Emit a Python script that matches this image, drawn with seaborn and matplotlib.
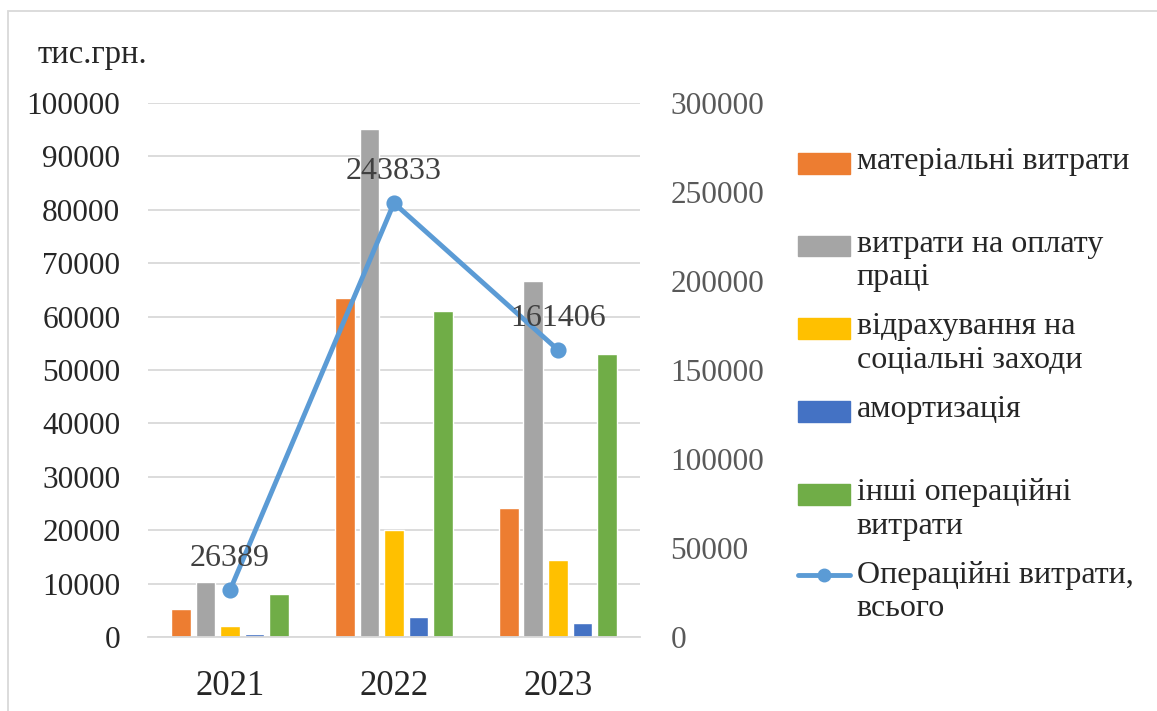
import matplotlib.pyplot as plt
import matplotlib.patches as mpatches
from matplotlib.legend_handler import HandlerPatch
from matplotlib.lines import Line2D
import pandas as pd
import seaborn as sns

# Data (тис.грн.)
years = ['2021', '2022', '2023']
material = [5200, 63500, 24100]
labor = [10300, 95100, 66700]
social = [2100, 20000, 14500]
amort = [500, 3700, 2600]
other = [8000, 61100, 53000]
total = [26389, 243833, 161406]

names = ['матеріальні витрати', 'витрати на оплату\nпраці',
         'відрахування на\nсоціальні заходи', 'амортизація',
         'інші операційні\nвитрати']
total_name = 'Операційні витрати,\nвсього'
colors = ['#ED7D31', '#A5A5A5', '#FFC000', '#4472C4', '#70AD47']
line_color = '#5B9BD5'

rows = []
for name, vals in zip(names, [material, labor, social, amort, other]):
    for y, v in zip(years, vals):
        rows.append({'year': y, 'item': name, 'value': v})
df = pd.DataFrame(rows)

sns.set_style('white')
plt.rcParams['font.family'] = ['Liberation Serif', 'DejaVu Serif']

fig = plt.figure(figsize=(11.57, 7.11), dpi=100)
ax = fig.add_axes([0.128, 0.104, 0.425, 0.751])

sns.barplot(data=df, x='year', y='value', hue='item', hue_order=names,
            palette=colors, saturation=1, width=0.75, gap=0.2,
            legend=False, ax=ax)
ax.set_ylim(0, 100000)
ax.set_yticks(range(0, 100001, 10000))
ax.grid(axis='y', color='#D9D9D9', linewidth=1.3)
ax.set_axisbelow(True)
for s in ['left', 'right', 'top']:
    ax.spines[s].set_visible(False)
ax.spines['bottom'].set_color('#D9D9D9')
ax.spines['bottom'].set_linewidth(1.3)
ax.tick_params(axis='y', length=0, labelsize=22.5, pad=20)
ax.tick_params(axis='x', length=0, labelsize=25, pad=24)
ax.set_xlabel('')
ax.set_ylabel('')

# total line on secondary axis
ax2 = ax.twinx()
sns.pointplot(x=years, y=total, color=line_color, markers='o',
              markersize=9, linewidth=3.5, ax=ax2)
ax2.set_ylim(0, 300000)
ax2.set_yticks(range(0, 300001, 50000))
ax2.tick_params(axis='y', length=0, labelsize=22.5, pad=22, labelcolor='#595959')
for s in ax2.spines.values():
    s.set_visible(False)
ax2.set_ylabel('')
ax2.set_xlabel('')
for i, v in enumerate(total):
    ax2.annotate(str(v), (i, v), xytext=(0, 12), textcoords='offset points',
                 ha='center', va='bottom', fontsize=23, color='#404040')

fig.text(38 / 1157, 1 - 55 / 711, 'тис.грн.', fontsize=23.5, va='center')


# legend: thin colour boxes, each entry in an equal two-line slot
def small_box(legend, orig_handle, xdescent, ydescent, width, height, fontsize):
    h = 15
    return mpatches.Rectangle((-xdescent, -ydescent + (height - h) / 2), width, h)


handles = [mpatches.Patch(color=c) for c in colors]
handles.append(Line2D([], [], color=line_color, linewidth=3.5,
                      marker='o', markersize=9))
labels = [n if '\n' in n else n + '\n' for n in names + [total_name]]
leg = fig.legend(handles, labels, loc='upper left',
                 bbox_to_anchor=(769 / 1157, 1 - 118 / 711), frameon=False,
                 fontsize=23, handlelength=1.65, handleheight=1.2,
                 handletextpad=0.2, labelspacing=0.64,
                 handler_map={mpatches.Patch: HandlerPatch(patch_func=small_box)})
for col in leg._legend_handle_box.get_children():
    for item in col.get_children():
        item.align = 'top'

# chart border (top and left visible)
fig.add_artist(plt.Rectangle((8 / 1157, -0.1), 1.2, 1.1 - 11 / 711,
                             transform=fig.transFigure, fill=False,
                             edgecolor='#D9D9D9', linewidth=1.3))

fig.savefig('out.png', dpi=100)
